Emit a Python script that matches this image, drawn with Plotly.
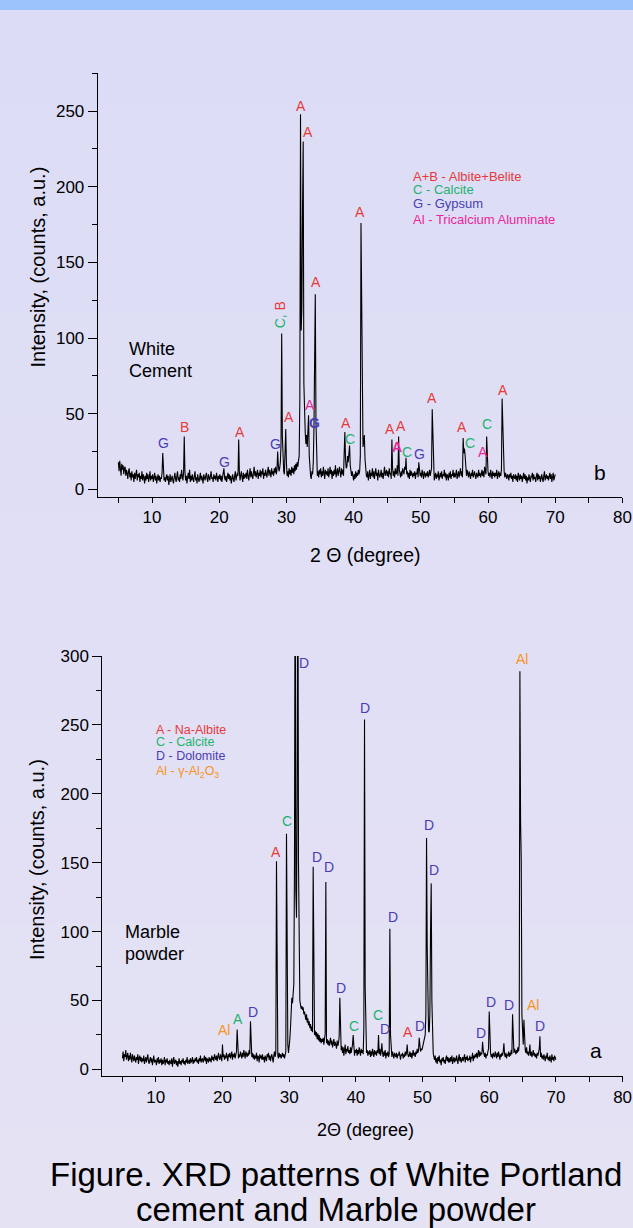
import plotly.graph_objects as go

W, H = 633, 1228
FONT = "Arial, Liberation Sans, sans-serif"

RED = "#E53B3B"
GREEN = "#1DB36E"
BLUE = "#4A3DB3"
MAGENTA = "#E8289A"
ORANGE = "#F7941D"

# ---------------- data: White cement (pattern b), 2-theta 5.0 .. 70.0 step 0.1 ----------------
cement_start = 5.0
cement_step = 0.1
cement_counts = [
    18, 12, 19, 15, 9, 17, 13, 16, 10, 14,      # 5
    15, 9, 13, 11, 7, 12, 14, 8, 11, 6,         # 6
    12, 8, 10, 5, 11, 7, 9, 13, 6, 10,          # 7
    8, 11, 5, 9, 7, 12, 6, 10, 8, 4,            # 8
    9, 6, 11, 7, 10, 5, 8, 12, 6, 9,            # 9
    7, 10, 5, 8, 11, 6, 9, 4, 8, 10,            # 10
    6, 9, 5, 8, 7, 11, 24, 9, 6, 8,             # 11
    5, 8, 10, 6, 9, 3, 7, 10, 5, 8,             # 12
    9, 6, 4, 8, 11, 7, 5, 9, 12, 6,             # 13
    8, 5, 10, 7, 13, 9, 6, 11, 35, 12,          # 14
    6, 9, 4, 8, 11, 7, 13, 5, 9, 6,             # 15
    10, 7, 5, 9, 12, 6, 8, 4, 10, 7,            # 16
    5, 8, 11, 6, 9, 7, 4, 10, 8, 6,             # 17
    9, 11, 7, 5, 10, 8, 6, 9, 12, 7,            # 18
    8, 5, 10, 7, 9, 6, 11, 8, 5, 9,             # 19
    7, 10, 6, 9, 5, 8, 11, 14, 8, 6,            # 20
    9, 5, 8, 11, 7, 10, 6, 9, 4, 8,             # 21
    10, 7, 5, 9, 12, 6, 8, 11, 9, 33,           # 22
    12, 6, 9, 12, 8, 5, 11, 7, 10, 8,           # 23
    11, 7, 13, 9, 6, 10, 14, 8, 12, 9,          # 24
    7, 11, 15, 9, 12, 8, 10, 13, 7, 11,         # 25
    9, 13, 8, 12, 10, 14, 7, 11, 9, 13,         # 26
    10, 8, 12, 15, 9, 13, 11, 8, 14, 10,        # 27
    12, 9, 14, 11, 15, 10, 13, 25, 16, 12,      # 28
    14, 18, 30, 103, 35, 15, 12, 10, 20, 40,    # 29
    18, 9, 12, 8, 14, 10, 13, 9, 15, 11,        # 30
    14, 10, 16, 12, 17, 13, 18, 15, 19, 22,     # 31
    60, 248, 105, 120, 185, 230, 70, 42, 38, 30,  # 32
    36, 28, 38, 49, 22, 14, 9, 7, 12, 10,       # 33
    18, 40, 95, 129, 45, 15, 9, 12, 8, 13,      # 34
    10, 14, 8, 12, 9, 15, 11, 7, 13, 10,        # 35
    12, 9, 14, 8, 11, 15, 10, 13, 7, 12,        # 36
    9, 13, 10, 16, 8, 12, 14, 9, 11, 15,        # 37
    11, 8, 14, 10, 13, 9, 24, 38, 20, 14,       # 38
    15, 22, 18, 24, 29, 16, 11, 9, 12, 8,       # 39
    6, 10, 7, 12, 8, 11, 9, 13, 10, 12,         # 40
    22, 176, 120, 40, 28, 32, 36, 20, 12, 9,    # 41
    8, 12, 6, 10, 13, 7, 11, 9, 14, 8,          # 42
    12, 7, 10, 14, 9, 11, 6, 13, 10, 8,         # 43
    10, 13, 8, 11, 7, 12, 15, 9, 11, 13,        # 44
    9, 12, 8, 14, 10, 11, 7, 33, 14, 9,         # 45
    12, 8, 14, 10, 11, 16, 9, 35, 13, 10,       # 46
    8, 12, 9, 14, 11, 10, 15, 13, 21, 10,       # 47
    12, 8, 11, 7, 13, 9, 12, 10, 8, 11,         # 48
    9, 12, 7, 11, 10, 14, 8, 18, 12, 9,         # 49
    11, 8, 13, 9, 7, 12, 10, 8, 11, 9,          # 50
    12, 8, 10, 13, 9, 11, 14, 53, 30, 10,       # 51
    6, 9, 11, 7, 10, 8, 12, 6, 9, 11,           # 52
    8, 12, 7, 10, 9, 13, 8, 11, 6, 10,          # 53
    9, 6, 11, 8, 12, 7, 10, 9, 13, 8,           # 54
    11, 8, 10, 13, 7, 9, 12, 8, 10, 14,         # 55
    9, 12, 8, 34, 24, 27, 22, 11, 9, 13,        # 56
    10, 8, 12, 9, 7, 11, 9, 13, 8, 10,          # 57
    12, 9, 7, 11, 10, 8, 13, 9, 11, 8,          # 58
    10, 13, 9, 12, 8, 15, 12, 10, 35, 16,       # 59
    12, 9, 11, 8, 13, 10, 7, 12, 9, 11,         # 60
    8, 11, 9, 13, 7, 10, 12, 8, 11, 9,          # 61
    13, 60, 44, 20, 12, 8, 11, 9, 7, 10,        # 62
    9, 6, 10, 8, 11, 7, 9, 5, 10, 8,            # 63
    7, 10, 6, 9, 5, 11, 8, 6, 10, 7,            # 64
    9, 5, 8, 11, 7, 10, 6, 9, 4, 8,             # 65
    6, 10, 7, 5, 9, 8, 11, 6, 10, 7,            # 66
    8, 5, 9, 11, 6, 10, 7, 9, 5, 8,             # 67
    10, 7, 5, 9, 12, 6, 8, 10, 7, 9,            # 68
    6, 9, 11, 7, 10, 5, 8, 11, 6, 9,            # 69
    10,                                         # 70
]

# ---------------- data: Marble powder (pattern a), 2-theta 5.0 .. 70.0 step 0.1 ----------------
marble_start = 5.0
marble_step = 0.1
marble_counts = [
    8, 13, 6, 11, 9, 14, 7, 10, 12, 6,          # 5
    10, 7, 12, 8, 5, 11, 9, 6, 10, 8,           # 6
    5, 9, 7, 11, 4, 8, 10, 6, 9, 5,             # 7
    8, 6, 10, 4, 7, 9, 5, 8, 11, 6,             # 8
    4, 7, 9, 5, 8, 3, 6, 10, 5, 7,              # 9
    6, 3, 8, 5, 9, 4, 7, 5, 8, 3,               # 10
    7, 4, 6, 9, 3, 7, 5, 8, 4, 6,               # 11
    3, 7, 5, 4, 8, 2, 6, 9, 4, 5,               # 12
    7, 3, 6, 2, 5, 8, 4, 6, 3, 7,               # 13
    5, 8, 4, 6, 3, 7, 5, 9, 4, 6,               # 14
    7, 4, 8, 5, 6, 9, 4, 7, 5, 8,               # 15
    6, 9, 5, 7, 4, 8, 6, 10, 5, 7,              # 16
    8, 5, 7, 10, 6, 9, 4, 8, 7, 5,              # 17
    9, 6, 8, 5, 10, 7, 9, 6, 11, 8,             # 18
    7, 10, 6, 9, 12, 8, 7, 11, 9, 6,            # 19
    18, 9, 11, 7, 10, 8, 12, 9, 6, 11,          # 20
    9, 12, 8, 10, 13, 7, 11, 9, 12, 8,          # 21
    10, 13, 29, 12, 8, 11, 9, 13, 10, 8,        # 22
    12, 9, 14, 10, 8, 13, 11, 9, 12, 10,        # 23
    14, 11, 35, 13, 9, 12, 8, 11, 7, 10,        # 24
    8, 12, 6, 10, 9, 5, 11, 8, 10, 7,           # 25
    11, 7, 9, 5, 10, 8, 6, 11, 9, 12,           # 26
    7, 10, 6, 9, 11, 8, 5, 10, 13, 9,           # 27
    12, 151, 40, 10, 8, 12, 9, 11, 8, 10,       # 28
    12, 9, 11, 8, 10, 13, 171, 45, 18, 12,      # 29
    16, 22, 30, 45, 52, 48, 55, 62, 150, 400,   # 30
    130, 110, 200, 420, 150, 62, 50, 47, 44, 46,  # 31
    43, 45, 40, 42, 38, 36, 40, 34, 37, 32,     # 32
    35, 30, 33, 28, 31, 27, 147, 30, 25, 28,    # 33
    24, 27, 22, 26, 21, 25, 20, 23, 19, 22,     # 34
    20, 23, 18, 22, 26, 136, 19, 22, 18, 21,    # 35
    17, 20, 23, 18, 21, 16, 19, 22, 17, 20,     # 36
    18, 15, 21, 17, 19, 24, 52, 20, 14, 17,     # 37
    12, 16, 10, 14, 18, 11, 15, 13, 17, 12,     # 38
    14, 11, 16, 12, 15, 18, 25, 13, 10, 14,     # 39
    12, 15, 10, 14, 11, 16, 13, 10, 15, 12,     # 40
    14, 11, 30, 254, 60, 18, 12, 14, 10, 13,    # 41
    11, 14, 9, 13, 10, 15, 12, 9, 14, 11,       # 42
    13, 10, 14, 12, 25, 11, 15, 10, 13, 19,     # 43
    12, 9, 13, 10, 14, 8, 12, 10, 13, 9,        # 44
    11, 102, 25, 12, 9, 13, 10, 8, 12, 11,      # 45
    9, 12, 8, 11, 10, 13, 9, 7, 11, 10,         # 46
    12, 8, 11, 9, 13, 10, 12, 18, 11, 9,        # 47
    10, 13, 9, 12, 8, 11, 14, 10, 12, 9,        # 48
    13, 11, 15, 12, 14, 23, 16, 13, 15, 14,     # 49
    16, 18, 20, 24, 25, 40, 168, 90, 35, 28,    # 50
    27, 40, 100, 135, 50, 22, 12, 9, 7, 10,     # 51
    5, 8, 4, 9, 6, 10, 5, 7, 3, 8,              # 52
    6, 9, 5, 7, 4, 8, 10, 6, 9, 5,              # 53
    8, 5, 9, 6, 10, 4, 7, 9, 5, 8,              # 54
    6, 10, 7, 4, 8, 11, 6, 9, 5, 7,             # 55
    9, 6, 8, 11, 5, 9, 7, 10, 6, 8,             # 56
    7, 10, 5, 9, 8, 12, 6, 10, 8, 11,           # 57
    9, 12, 8, 11, 14, 9, 13, 10, 12, 11,        # 58
    20, 14, 11, 9, 12, 8, 11, 10, 13, 15,       # 59
    42, 18, 12, 9, 11, 8, 12, 10, 9, 13,        # 60
    11, 8, 12, 9, 13, 10, 7, 11, 9, 12,         # 61
    10, 13, 19, 11, 9, 12, 8, 11, 10, 13,       # 62
    9, 12, 10, 14, 11, 40, 18, 12, 15, 13,      # 63
    11, 14, 12, 16, 13, 18, 289, 180, 153, 40,  # 64
    25, 18, 36, 20, 14, 12, 16, 11, 13, 10,     # 65
    12, 18, 10, 13, 9, 11, 14, 10, 12, 9,       # 66
    11, 8, 12, 10, 14, 15, 24, 9, 12, 8,        # 67
    10, 7, 11, 9, 6, 10, 8, 12, 7, 9,           # 68
    6, 10, 8, 5, 11, 7, 9, 6, 10, 8,            # 69
    7,                                          # 70
]

cement_theta = [round(cement_start + cement_step * i, 2) for i in range(len(cement_counts))]
marble_theta = [round(marble_start + marble_step * i, 2) for i in range(len(marble_counts))]

# ---------------- peak labels ----------------
cement_lbl_text = ["G", "B", "G", "A", "G", "A", "A", "A", "A", "<b>G</b>", "A", "A", "C",
                   "A", "A", "A", "<b>A</b>", "C", "G", "A", "A", "C", "A", "C", "A"]
cement_lbl_color = [BLUE, RED, BLUE, RED, BLUE, RED, RED, RED, MAGENTA, BLUE, RED, RED, GREEN,
                    RED, RED, RED, MAGENTA, GREEN, BLUE, RED, RED, GREEN, MAGENTA, GREEN, RED]
cement_lbl_x = [11.68, 14.8, 20.8, 23.1, 28.45, 30.4, 32.1, 33.15, 33.5, 34.25, 34.4, 38.9, 39.5,
                41.0, 45.45, 47.0, 46.4, 48.0, 49.8, 51.6, 56.1, 57.3, 59.2, 59.9, 62.2]
cement_lbl_y = [30.5, 41.3, 18.2, 38, 30.3, 47.7, 253.6, 236.2, 55.9, 43.8, 137, 43.8, 33.4,
                183.5, 40, 42, 28.3, 25, 23.3, 60.3, 41.5, 30.5, 25, 43.1, 65.8]

marble_lbl_text = ["Al", "A", "D", "A", "C", "D", "D", "D", "D", "C", "D", "C", "D", "D",
                   "A", "D", "D", "D", "D", "D", "D", "Al", "Al", "D"]
marble_lbl_color = [ORANGE, GREEN, BLUE, RED, GREEN, BLUE, BLUE, BLUE, BLUE, GREEN, BLUE, GREEN,
                    BLUE, BLUE, RED, BLUE, BLUE, BLUE, BLUE, BLUE, BLUE, ORANGE, ORANGE, BLUE]
marble_lbl_x = [20.24, 22.33, 24.55, 28.1, 29.7, 32.2, 34.2, 35.9, 37.8, 39.7, 41.33, 43.37, 44.35,
                45.5, 47.77, 49.55, 50.95, 51.75, 58.7, 60.3, 63.0, 64.95, 66.5, 67.65]
marble_lbl_y = [28.7, 36.9, 41.5, 157.6, 180.3, 294.8, 154, 147, 58.9, 31.6, 262, 39.5, 29.4,
                110.9, 27, 31.6, 177.4, 144.8, 26.3, 48.8, 46.6, 297.7, 46.6, 31.6]

cement_legend = ["A+B - Albite+Belite", "C - Calcite", "G - Gypsum", "Al - Tricalcium Aluminate"]
cement_legend_color = [RED, GREEN, BLUE, MAGENTA]
marble_legend = ["A - Na-Albite", "C - Calcite", "D - Dolomite",
                 "Al - γ-Al<sub>2</sub>O<sub>3</sub>"]
marble_legend_color = [RED, GREEN, BLUE, ORANGE]

x_ticks = [10, 20, 30, 40, 50, 60, 70, 80]


def px(x):
    return x / W


def py(y):
    return 1 - y / H


fig = go.Figure()
fig.add_trace(go.Scatter(x=cement_theta, y=cement_counts, mode="lines",
                         line=dict(color="black", width=1.1), xaxis="x", yaxis="y",
                         showlegend=False, hoverinfo="skip"))
fig.add_trace(go.Scatter(x=marble_theta, y=marble_counts, mode="lines",
                         line=dict(color="black", width=1.1), xaxis="x2", yaxis="y2",
                         showlegend=False, hoverinfo="skip"))

tickfont = dict(family=FONT, size=17, color="black")
xcommon = dict(showline=True, linecolor="black", linewidth=1, ticks="outside", ticklen=5,
               tickcolor="black", tickwidth=1, tickvals=x_ticks, showgrid=False, zeroline=False,
               tickfont=tickfont, automargin=False,
               minor=dict(tickvals=[5, 15, 25, 35, 45, 55, 65, 75], ticks="outside", ticklen=5,
                          tickcolor="black", tickwidth=1, showgrid=False))
ycommon = dict(showline=True, linecolor="black", linewidth=1, ticks="outside", ticklen=9,
               tickcolor="black", tickwidth=1, dtick=50, tick0=0, showgrid=False, zeroline=False,
               tickfont=tickfont, automargin=False,
               minor=dict(dtick=25, ticks="outside", ticklen=5, tickcolor="black", tickwidth=1,
                          showgrid=False))

fig.update_layout(
    width=W, height=H, autosize=False,
    margin=dict(l=0, r=0, t=0, b=0, pad=0, autoexpand=False),
    paper_bgcolor="#E0DFF4", plot_bgcolor="rgba(0,0,0,0)",
    xaxis=dict(domain=[px(97.7), px(622.4)], range=[1.92, 80], anchor="y", **xcommon),
    yaxis=dict(domain=[py(497), py(73.3)], range=[-5, 275], anchor="x", **ycommon),
    xaxis2=dict(domain=[px(102.3), px(622.6)], range=[1.98, 80], anchor="y2", **xcommon),
    yaxis2=dict(domain=[py(1076.3), py(656)], range=[-5, 300], anchor="x2", **ycommon),
)

# background: top blue strip and a gentle lavender gradient
shapes = [dict(type="rect", xref="paper", yref="paper", x0=0, x1=1, y0=py(10), y1=1,
               fillcolor="#9DC3FD", line=dict(width=0), layer="below")]
top_rgb = (220, 220, 246)
bot_rgb = (229, 226, 244)
nb = 12
for i in range(nb):
    t = i / (nb - 1)
    c = tuple(round(top_rgb[k] + (bot_rgb[k] - top_rgb[k]) * t) for k in range(3))
    y0 = 10 + (H - 10) * i / nb
    y1 = 10 + (H - 10) * (i + 1) / nb
    shapes.append(dict(type="rect", xref="paper", yref="paper", x0=0, x1=1,
                       y0=py(y1), y1=py(y0), fillcolor="rgb(%d,%d,%d)" % c,
                       line=dict(width=0), layer="below"))
fig.update_layout(shapes=shapes)

ann = []


def text(x, y, s, size, color="black", xanchor="center", angle=0, xref="paper", yref="paper",
         pad=1):
    ann.append(dict(x=x, y=y, xref=xref, yref=yref, text=s, showarrow=False,
                    xanchor=xanchor, yanchor="middle", textangle=angle, borderpad=pad,
                    font=dict(family=FONT, size=size, color=color)))


for s, c, x, y in zip(cement_lbl_text, cement_lbl_color, cement_lbl_x, cement_lbl_y):
    text(x, y, s, 14, c, xref="x", yref="y")
text(29.0, 115.5, "<span style='color:%s'>C,</span> <span style='color:%s'>B</span>" % (GREEN, RED),
     14, GREEN, angle=-90, xref="x", yref="y")
for s, c, x, y in zip(marble_lbl_text, marble_lbl_color, marble_lbl_x, marble_lbl_y):
    text(x, y, s, 14, c, xref="x2", yref="y2")

for s, c, y in zip(cement_legend, cement_legend_color, [176.7, 189.7, 203.7, 219.7]):
    text(px(410.5), py(y), s, 13, c, xanchor="left")
for s, c, y in zip(marble_legend, marble_legend_color, [729.7, 741.7, 755.7, 772]):
    text(px(153.5), py(y), s, 12.5, c, xanchor="left")

# axis titles
text(px(37), py(267.5), "Intensity, (counts, a.u.)", 20, angle=-90)
text(px(37), py(860), "Intensity, (counts, a.u.)", 20, angle=-90)
text(px(365), py(555.3), "2 Θ (degree)", 19.5)
text(px(365), py(1129.5), "2Θ (degree)", 18)

# sample names / panel letters
text(px(127), py(348.8), "White", 18, xanchor="left")
text(px(127), py(370.8), "Cement", 18, xanchor="left")
text(px(122.6), py(932.3), "Marble", 18, xanchor="left")
text(px(122.6), py(954), "powder", 18, xanchor="left")
text(px(599.7), py(472.7), "b", 21)
text(px(596.2), py(1050), "a", 21)

# caption
text(px(336), py(1174), "Figure. XRD patterns of White Portland", 33, pad=0)
text(px(336), py(1209), "cement and Marble powder", 33, pad=0)

fig.update_layout(annotations=ann)
fig.write_html(
    "out.html",
    post_script=("document.documentElement.style.margin='0';"
                 "document.body.style.margin='0';document.body.style.padding='0';"
                 "document.documentElement.style.overflow='hidden';"
                 "document.body.style.overflow='hidden';"),
)
